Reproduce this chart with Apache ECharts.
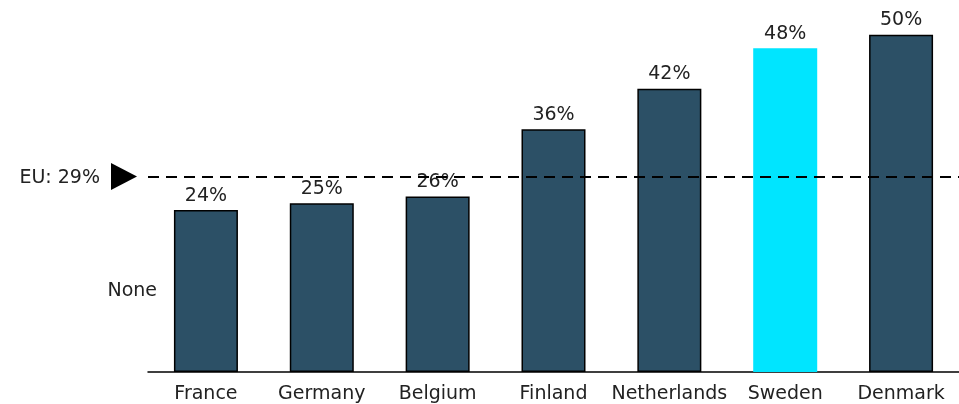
<!DOCTYPE html>
<html>
<head>
<meta charset="utf-8">
<script src="https://cdn.jsdelivr.net/npm/echarts@6/dist/echarts.min.js"></script>
<style>html,body{margin:0;padding:0;background:#fff}#c{width:959px;height:404px}</style>
</head>
<body>
<div id="c"></div>
<script>
const categories = ['France','Germany','Belgium','Finland','Netherlands','Sweden','Denmark'];
const values = [24,25,26,36,42,48,50];
const highlight = 'Sweden';
const euValue = 29;
const euLabel = 'EU: 29%';
const noneLabel = 'None';
const noneValue = 12;

const FONT = '"DejaVu Sans", sans-serif';
const FS = 19;
const chart = echarts.init(document.getElementById('c'), null, {renderer:'canvas'});
const option = {
  animation:false,
  grid:{left:148,right:-1,top:1,bottom:31,containLabel:false},
  xAxis:{type:'category',data:categories,
    axisLine:{lineStyle:{color:'#000',width:1.5}},
    axisTick:{show:false},
    axisLabel:{interval:0,color:'#222',fontSize:FS,fontFamily:FONT,margin:13,hideOverlap:false}},
  yAxis:{type:'value',min:0,max:55,show:false,splitLine:{show:false}},
  series:[{type:'bar',barWidth:64,
    data:values.map((v,i)=>({value:v,itemStyle: categories[i]===highlight?{color:'#00e5ff',borderWidth:0}:{color:'#2c5066',borderColor:'#000',borderWidth:1.5}})),
    label:{show:true,position:'top',formatter:'{c}%',color:'#222',fontSize:FS,fontFamily:FONT,distance:5},
    markLine:{silent:true,symbol:['none','none'],label:{show:false},
      lineStyle:{color:'#000',type:[11,7],width:2},
      data:[{yAxis:euValue}]}
  }]
};
chart.setOption(option);
const yEu = chart.convertToPixel({yAxisIndex:0}, euValue);
const yNone = chart.convertToPixel({yAxisIndex:0}, noneValue);
chart.setOption({graphic:[
  {type:'polygon',shape:{points:[[111,yEu-13.5],[137,yEu],[111,yEu+13.5]]},style:{fill:'#000'}},
  {type:'text',x:100,y:yEu+2,style:{text:euLabel,align:'right',verticalAlign:'middle',fontSize:FS,fontFamily:FONT,fill:'#222'}},
  {type:'text',x:157,y:yNone,style:{text:noneLabel,align:'right',verticalAlign:'middle',fontSize:FS,fontFamily:FONT,fill:'#222'}}
]});
</script>
</body>
</html>
